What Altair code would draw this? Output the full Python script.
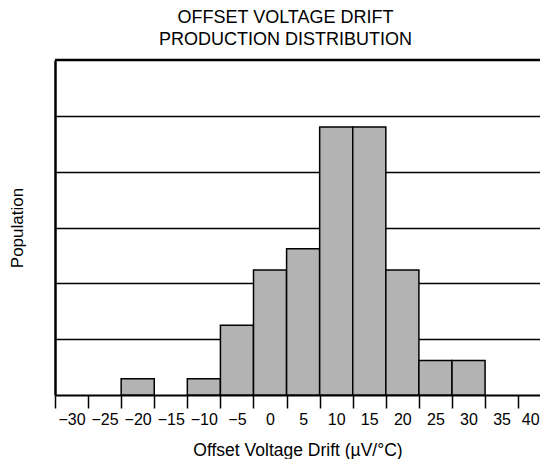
import altair as alt
import pandas as pd

# Histogram bins (center of each 5 µV/°C bin) and relative population
bin_centers = [-20, -10, -5, 0, 5, 10, 15, 20, 25, 30]
population = [0.29, 0.29, 1.25, 2.24, 2.62, 4.80, 4.80, 2.24, 0.62, 0.62]
bin_width = 5

# Tick marks sit on bin edges; labels show bin centers
tick_edges = [-32.5, -27.5, -22.5, -17.5, -12.5, -7.5, -2.5, 2.5, 7.5,
              12.5, 17.5, 22.5, 27.5, 32.5, 37.5]
grid_levels = [1, 2, 3, 4, 5]
y_top = 6

df = pd.DataFrame({
    "center": bin_centers,
    "pop": population,
})
df["start"] = df["center"] - bin_width / 2
df["end"] = df["center"] + bin_width / 2

FONT = "Liberation Sans"

x_scale = alt.Scale(domain=[-32.5, 40.8], nice=False, zero=False)
y_scale = alt.Scale(domain=[0, y_top], nice=False, zero=True)

bars = alt.Chart(df).mark_bar(
    fill="#b3b3b3", stroke="black", strokeWidth=1.5
).encode(
    x=alt.X(
        "start:Q",
        scale=x_scale,
        axis=alt.Axis(
            values=tick_edges,
            labelExpr="replace(format(datum.value + 2.5, 'd'), '-', '\u2212')",
            labelOffset=alt.condition("datum.value > 35", alt.value(12), alt.value(16.5)),
            labelOverlap=False,
            labelFlush=False,
            labelBound=False,
            tickSize=13,
            tickWidth=1.5,
            tickColor="black",
            domainColor="black",
            domainWidth=2,
            labelFontSize=16,
            labelColor="black",
            labelFont=FONT,
            labelPadding=3,
            grid=False,
            title="Offset Voltage Drift (\u00b5V/\u00b0C)",
            titleFontSize=17.5,
            titleFontWeight="normal",
            titleColor="black",
            titleFont=FONT,
            titlePadding=14,
        ),
    ),
    x2="end:Q",
    y=alt.Y(
        "pop:Q",
        scale=y_scale,
        axis=alt.Axis(
            values=grid_levels,
            labels=False,
            ticks=False,
            grid=True,
            gridColor="black",
            gridWidth=1.3,
            gridOpacity=1,
            domainColor="black",
            domainWidth=2.5,
            title="Population",
            titleFontSize=17,
            titleFontWeight="normal",
            titleColor="black",
            titleFont=FONT,
            titlePadding=29,
        ),
    ),
    y2=alt.datum(0),
)

top_border = alt.Chart(pd.DataFrame({"y": [y_top]})).mark_rule(
    color="black", strokeWidth=2.5
).encode(y=alt.Y("y:Q", scale=y_scale))

chart = alt.layer(bars, top_border).properties(
    width=485,
    height=335,
    autosize=alt.AutoSizeParams(type="none"),
    padding={"left": 47, "top": 52, "right": 0, "bottom": 64},
    title=alt.TitleParams(
        ["OFFSET VOLTAGE DRIFT", "PRODUCTION DISTRIBUTION"],
        fontSize=18,
        fontWeight="normal",
        font=FONT,
        color="black",
        lineHeight=22,
        dx=-12,
        offset=10,
    ),
).configure_view(stroke=None)

chart.save("out.html", embed_options={"renderer": "svg", "actions": False})
